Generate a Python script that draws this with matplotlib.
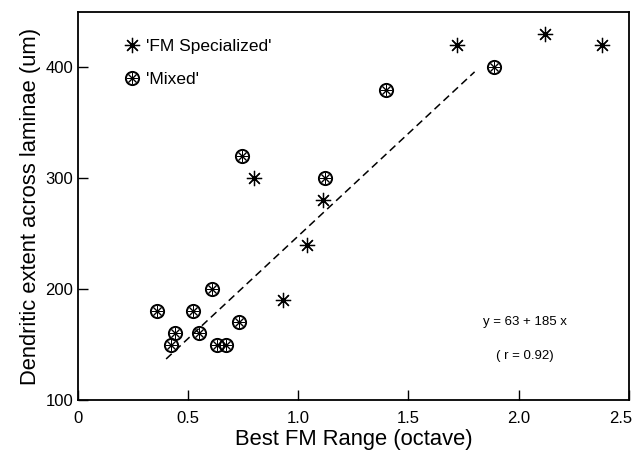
import numpy as np
import matplotlib
matplotlib.use("Agg")
import matplotlib.pyplot as plt
import matplotlib.transforms as mtransforms
from matplotlib.lines import Line2D

plt.rcParams["font.family"] = ["Liberation Sans", "DejaVu Sans"]

# 'FM Specialized' neurons
spec_x = [1.72, 2.12, 2.38, 0.80, 1.11, 1.04, 0.93]
spec_y = [420, 430, 420, 300, 280, 240, 190]

# 'Mixed' neurons
mixed_x = [0.745, 1.12, 1.40, 1.89, 0.36, 0.42, 0.44, 0.52, 0.55, 0.61, 0.63, 0.67, 0.73]
mixed_y = [320, 300, 380, 400, 180, 150, 160, 180, 160, 200, 150, 150, 170]

# regression y = a + b x
fit_a, fit_b = 63, 185
fit_range = [0.4, 1.8]

xticks = [0, 0.5, 1.0, 1.5, 2.0, 2.5]
xticklabels = ["0", "0.5", "1.0", "1.5", "2.0", "2.5"]
yticks = [100, 200, 300, 400]

fig = plt.figure(figsize=(6.35, 4.53), dpi=100)
ax = fig.add_axes([0.1228, 0.117, 0.8675, 0.8565])

star = dict(marker=(8, 2, 0), markersize=11, color="black", markeredgewidth=0.9, linestyle="none")
circ = dict(marker="o", markersize=9.5, markerfacecolor="none", markeredgecolor="black",
            markeredgewidth=1.4, linestyle="none")
inner = dict(marker=(8, 2, 0), markersize=8, color="black", markeredgewidth=0.7, linestyle="none")

ax.plot(spec_x, spec_y, **star)
ax.plot(mixed_x, mixed_y, **circ)
ax.plot(mixed_x, mixed_y, **inner)

fx = np.array(fit_range)
ax.plot(fx, fit_a + fit_b * fx, color="black", linestyle=(0, (5, 3)), linewidth=1.1)

ax.text(2.03, 170, "y = 63 + 185 x", fontsize=9.5, ha="center", va="center")
ax.text(2.03, 140, "( r = 0.92)", fontsize=9.5, ha="center", va="center")

h_spec = Line2D([], [], **star)
h_mixed = (Line2D([], [], **circ), Line2D([], [], **inner))
ax.legend([h_spec, h_mixed], ["'FM Specialized'", "'Mixed'"], loc="upper left",
          bbox_to_anchor=(0.055, 0.97), frameon=False, fontsize=12.5,
          handlelength=0.9, handletextpad=0.4, labelspacing=1.0)

ax.set_xlim(0, 2.5)
ax.set_ylim(100, 450)
ax.set_xticks(xticks)
ax.set_xticklabels(xticklabels)
ax.set_yticks(yticks)
ax.tick_params(direction="in", length=7, width=1, labelsize=12)
ax.tick_params(axis="x", pad=8)
for s in ax.spines.values():
    s.set_linewidth(1.3)

# last x label sits at the right edge, nudge it left so it stays in the picture
last = ax.get_xticklabels()[-1]
last.set_transform(last.get_transform() + mtransforms.ScaledTranslation(-6 / 72, 0, fig.dpi_scale_trans))

ax.set_xlabel("Best FM Range (octave)", fontsize=15.8, labelpad=2)
ax.set_ylabel("Dendritic extent across laminae (um)", fontsize=15.8, labelpad=3)

fig.savefig("out.png", dpi=100)
